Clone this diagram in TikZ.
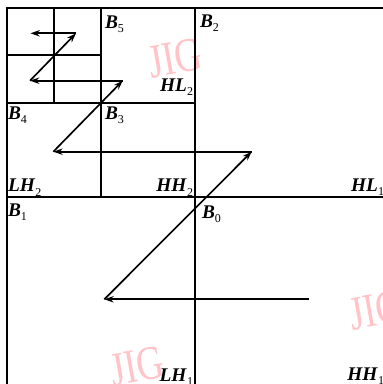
\documentclass[tikz,border=0pt]{standalone}
\usepackage{fontspec}
\setmainfont{Liberation Serif}
\usetikzlibrary{arrows.meta}
\definecolor{wm}{RGB}{255,195,200}
\newcommand{\lbl}[2]{\fontsize{14.5}{15}\selectfont\textbf{\textit{#1}}\raisebox{-3pt}{\fontsize{9}{9}\selectfont #2}}
\tikzset{
  grid/.style={line width=1.5pt, line cap=rect},
  scanarrow/.style={line width=1.25pt, -{Stealth[length=7pt,width=4.8pt]}},
  lab/.style={inner sep=0pt, outer sep=0pt},
  water/.style={inner sep=0pt, text=wm, rotate=10, font=\fontsize{36}{36}\selectfont, xscale=0.78}
}
\begin{document}
\begin{tikzpicture}[x=0.75pt,y=-0.75pt]
\useasboundingbox (0,0) rectangle (382,384);
\fill[white] (0,0) rectangle (382,384);
% watermarks
\node[water] (w1) at (175,58) {JIG};
\node[water] (w2) at (137,366) {JIG};
\node[water] (w3) at (376,310) {JIG};
% grid
\draw[grid] (6.5,8.3) rectangle (383.5,385);
\draw[grid] (195,8.3) -- (195,385);
\draw[grid] (6.5,196.7) -- (383.5,196.7);
\draw[grid] (101,8.3) -- (101,196.7);
\draw[grid] (6.5,102.7) -- (195,102.7);
\draw[grid] (54,8.3) -- (54,102.7);
\draw[grid] (6.5,55.5) -- (101,55.5);
% scan path
\coordinate (p0) at (309.3,299.3);
\coordinate (p1) at (104.3,299.3);
\coordinate (p2) at (251.7,151.7);
\coordinate (p3) at (53.3,151.7);
\coordinate (p4) at (122.7,80.7);
\coordinate (p5) at (30,80.7);
\coordinate (p6) at (76,33.3);
\coordinate (p7) at (30.5,33.3);
\draw[scanarrow] (p0) -- (p1);
\draw[scanarrow] (p1) -- (p2);
\draw[scanarrow] (p2) -- (p3);
\draw[scanarrow] (p3) -- (p4);
\draw[scanarrow] (p4) -- (p5);
\draw[scanarrow] (p5) -- (p6);
\draw[scanarrow] (p6) -- (p7);
% labels
\node[lab, anchor=base west] (b5) at (105,29) {\lbl{B}{5}};
\node[lab, anchor=base west] (b2) at (200,28) {\lbl{B}{2}};
\node[lab, anchor=base east] (hl2) at (193,92) {\lbl{HL}{2}};
\node[lab, anchor=base west] (b4) at (8,120) {\lbl{B}{4}};
\node[lab, anchor=base west] (b3) at (105,120) {\lbl{B}{3}};
\node[lab, anchor=base west] (lh2) at (8,192) {\lbl{LH}{2}};
\node[lab, anchor=base east] (hh2) at (193,192) {\lbl{HH}{2}};
\node[lab, anchor=base east] (hl1) at (384,191) {\lbl{HL}{1}};
\node[lab, anchor=base west] (b1) at (8,216) {\lbl{B}{1}};
\node[lab, anchor=base west] (b0) at (202,218) {\lbl{B}{0}};
\node[lab, anchor=base east] (lh1) at (193,381) {\lbl{LH}{1}};
\node[lab, anchor=base east] (hh1) at (384,380) {\lbl{HH}{1}};
\end{tikzpicture}
\end{document}
